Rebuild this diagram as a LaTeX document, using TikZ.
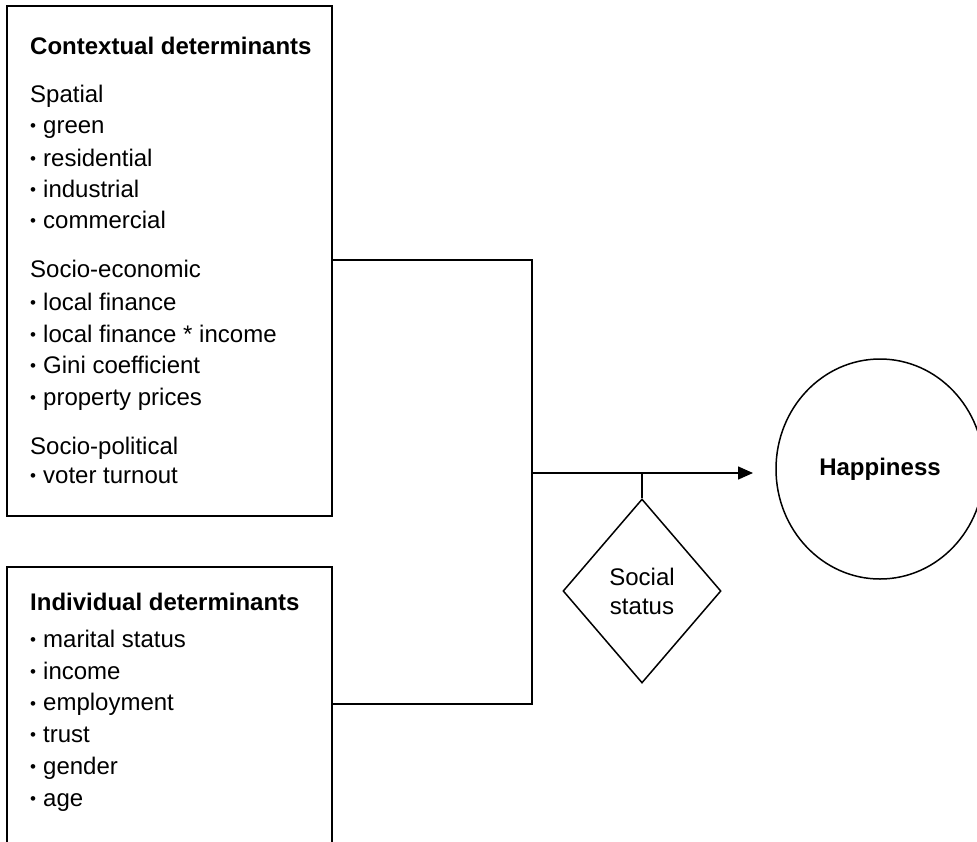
\documentclass[tikz,border=0pt]{standalone}
\usepackage{fontspec}
\setmainfont{Liberation Sans}
\usetikzlibrary{shapes.geometric,arrows.meta}
\newcommand\itembul{\makebox[13pt][l]{\raisebox{1.2pt}{\fontsize{17}{17}\selectfont •}}}
\begin{document}
\begin{tikzpicture}[x=1pt,y=-1pt,
  line/.style={line width=1.5pt},
  boxst/.style={draw, line width=1.5pt, rectangle, inner sep=0pt, outer sep=0pt, anchor=north west},
  txt/.style={anchor=base west, inner sep=0pt, font=\fontsize{24}{28}\selectfont},
  ttl/.style={txt, font=\fontsize{24}{28}\selectfont\bfseries},
  arr/.style={line width=1.5pt, -{Triangle[length=15pt,width=13pt]}}]
\useasboundingbox (0,0) rectangle (977,841);
% context box
\node[boxst, minimum width=325pt, minimum height=510pt] (ctx) at (7,6) {};
\node[ttl] (ctitle) at (30,54) {Contextual determinants};
\foreach \y/\t [count=\i] in {102/Spatial, 277/Socio-economic, 454/Socio-political}
  \node[txt] (chead\i) at (30,\y) {\t};
\foreach \y/\t [count=\i] in {133/green, 166/residential, 197/industrial, 228/commercial,
  310/local finance, 342/local finance * income, 373/Gini coefficient, 405/property prices,
  483/voter turnout}
  \node[txt] (citem\i) at (30,\y) {\itembul\t};
% individual box (open at the bottom edge)
\node[minimum width=325pt, minimum height=290pt, inner sep=0pt, outer sep=0pt, anchor=north west] (ind) at (7,567) {};
\draw[line] (ind.south west) -- (ind.north west) -- (ind.north east) -- (ind.south east);
\node[ttl] (ititle) at (30,610) {Individual determinants};
\foreach \y/\t [count=\i] in {647/marital status, 679/income, 710.5/employment, 742/trust, 774/gender, 806/age}
  \node[txt] (iitem\i) at (30,\y) {\itembul\t};
% social status and happiness
\node[draw, line, diamond, minimum width=158pt, minimum height=184pt, inner sep=0pt, align=center,
  font=\fontsize{24}{29}\selectfont] (ss) at (642,591) {Social\\status};
\node[draw, line, ellipse, minimum width=208pt, minimum height=220pt, inner sep=0pt,
  font=\fontsize{24}{28}\selectfont\bfseries] (hap) at (880,469) {\raisebox{-3pt}{Happiness}};
% connectors
\coordinate (jt) at (532,260);
\coordinate (jb) at (532,704);
\coordinate (jm) at (532,473);
\coordinate (tip) at (753,473);
\draw[line] (ctx.east |- jt) -- (jt) -- (jb) -- (ind.east |- jb);
\draw[arr] (jm) -- (tip);
\draw[line] (ss.north) -- (ss.north |- jm);
\end{tikzpicture}
\end{document}
